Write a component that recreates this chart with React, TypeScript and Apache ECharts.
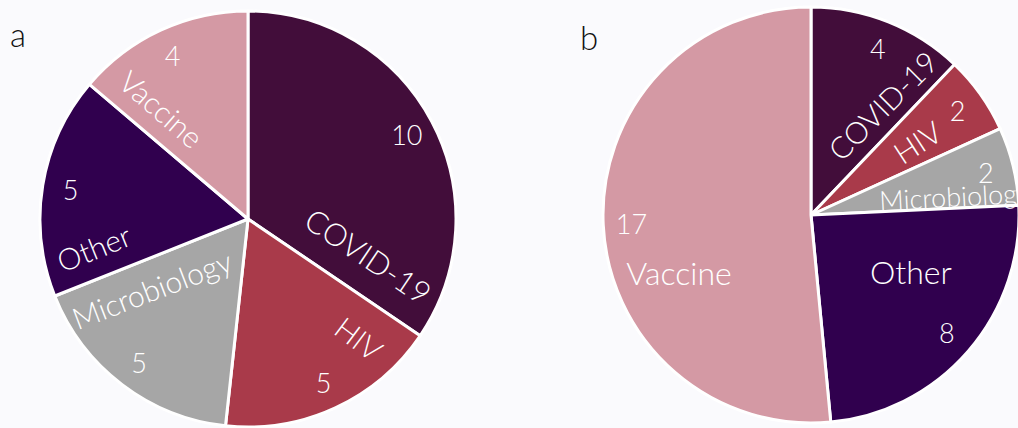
import React, { useEffect, useRef } from "react";
import * as echarts from "echarts";

const CATEGORIES = ["COVID-19", "HIV", "Microbiology", "Other", "Vaccine"];
const COUNTS_A = [10, 5, 5, 5, 4];
const COUNTS_B = [4, 2, 2, 8, 17];
const PANEL_LABELS = ["a", "b"];
const COLORS = ["#420D3A", "#A93A4A", "#A6A6A6", "#30004E", "#D499A4"];

// pie geometry (px)
const PIES = [
  { cx: 248, cy: 219, r: 208 },
  { cx: 811, cy: 215, r: 208 },
];

// name label placement: [polar angle deg (CCW from +x), radius px, rotate deg, fontSize]
const NAME_LAYOUT = [
  [
    [-17, 126, -34, 31],
    [-47, 163, -37, 30],
    [-144, 119, 21, 30],
    [-169.5, 157, 22, 30],
    [128, 140, -41, 30],
  ],
  [
    [57, 131, 45, 30],
    [34.6, 129, 33, 30],
    [7.5, 145, 3, 27],
    [-29.7, 115, 0, 32],
    [-156.5, 144, 0, 32],
  ],
];

const FONT = "Lato, 'Noto Sans', sans-serif";

export default function App() {
  const ref = useRef<HTMLDivElement>(null);
  useEffect(() => {
    const chart = echarts.init(ref.current!, null, { renderer: "svg" });
    const datasets = [COUNTS_A, COUNTS_B];
    const series: any[] = [];
    datasets.forEach((counts, pi) => {
      const p = PIES[pi];
      const data = CATEGORIES.map((name, i) => ({
        name,
        value: counts[i],
        itemStyle: { color: COLORS[i] },
        label: { fontSize: NAME_LAYOUT[pi][i][3] },
      }));
      series.push({
        type: "pie",
        center: [p.cx, p.cy],
        radius: [0, p.r],
        startAngle: 90,
        clockwise: true,
        silent: true,
        data,
        itemStyle: { borderColor: "#ffffff", borderWidth: 3 },
        label: {
          show: true,
          position: "inside",
          formatter: "{b}",
          color: "#ffffff",
          fontFamily: FONT,
          fontWeight: 300,
          overflow: "none",
        },
        labelLine: { show: false },
        labelLayout: (params: any) => {
          const l = NAME_LAYOUT[pi][params.dataIndex];
          const a = (l[0] * Math.PI) / 180;
          return {
            x: p.cx + l[1] * Math.cos(a),
            y: p.cy - l[1] * Math.sin(a),
            rotate: l[2],
            align: "center",
            verticalAlign: "middle",
          };
        },
      });
      // value labels overlay
      series.push({
        type: "pie",
        center: [p.cx, p.cy],
        radius: [p.r * 0.7, p.r],
        startAngle: 90,
        clockwise: true,
        silent: true,
        data: CATEGORIES.map((name, i) => ({ name, value: counts[i] })),
        itemStyle: { color: "rgba(0,0,0,0)", borderWidth: 0 },
        label: {
          show: true,
          position: "inside",
          formatter: "{c}",
          color: "#ffffff",
          fontSize: 27,
          fontFamily: FONT,
          fontWeight: 300,
        },
        labelLine: { show: false },
      });
    });
    chart.setOption({
      animation: false,
      backgroundColor: "#FAFAFD",
      title: [
        {
          text: PANEL_LABELS[0],
          left: 5,
          top: 12,
          textStyle: { fontFamily: FONT, fontWeight: 300, fontSize: 33, color: "#111111" },
        },
        {
          text: PANEL_LABELS[1],
          left: 575,
          top: 15,
          textStyle: { fontFamily: FONT, fontWeight: 300, fontSize: 33, color: "#111111" },
        },
      ],
      series,
    });
    return () => chart.dispose();
  }, []);
  return (
    <div
      ref={ref}
      style={{ position: "fixed", left: 0, top: 0, width: 1018, height: 428, background: "#FAFAFD" }}
    />
  );
}
